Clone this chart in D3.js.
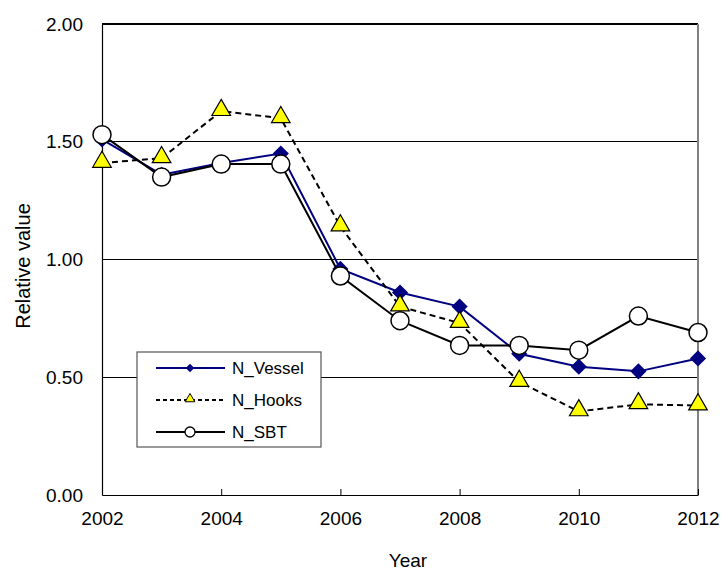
<!DOCTYPE html>
<html>
<head>
<meta charset="utf-8">
<script src="https://cdn.jsdelivr.net/npm/d3@7"></script>
<style>
  html, body { margin: 0; padding: 0; background: #fff; }
  svg { display: block; font-family: "Liberation Sans", Arial, sans-serif; }
</style>
</head>
<body>
<svg id="chart" width="722" height="571"></svg>
<script>
const years = [2002, 2003, 2004, 2005, 2006, 2007, 2008, 2009, 2010, 2011, 2012];
const nVessel = [1.51, 1.36, 1.41, 1.45, 0.96, 0.86, 0.80, 0.60, 0.545, 0.525, 0.58];
const nHooks  = [1.41, 1.43, 1.63, 1.60, 1.14, 0.80, 0.73, 0.48, 0.355, 0.385, 0.38];
const nSBT    = [1.53, 1.35, 1.405, 1.405, 0.93, 0.74, 0.635, 0.635, 0.615, 0.76, 0.69];
const yTicks = [0, 0.5, 1.0, 1.5, 2.0];
const xTicks = [2002, 2004, 2006, 2008, 2010, 2012];
const seriesNames = ["N_Vessel", "N_Hooks", "N_SBT"];

const svg = d3.select("#chart");
const pLeft = 102, pRight = 698, pTop = 24, pBottom = 495;

const x = d3.scaleLinear().domain([2002, 2012]).range([pLeft, pRight]);
const y = d3.scaleLinear().domain([0, 2]).range([pBottom, pTop]);

// gridlines
svg.append("g").selectAll("line").data(yTicks.filter(d => d > 0 && d < 2)).join("line")
  .attr("x1", pLeft).attr("x2", pRight)
  .attr("y1", d => y(d)).attr("y2", d => y(d))
  .attr("stroke", "#000").attr("stroke-width", 1).attr("shape-rendering", "crispEdges");

// frame top and right
svg.append("line").attr("x1", pLeft).attr("x2", pRight).attr("y1", pTop).attr("y2", pTop)
  .attr("stroke", "#000").attr("stroke-width", 1.2).attr("shape-rendering", "crispEdges");
svg.append("line").attr("x1", pRight).attr("x2", pRight).attr("y1", pTop).attr("y2", pBottom)
  .attr("stroke", "#808080").attr("stroke-width", 1.5).attr("shape-rendering", "crispEdges");

// y axis
const yAxis = svg.append("g").attr("transform", `translate(${pLeft},0)`)
  .call(d3.axisLeft(y).tickValues(yTicks).tickFormat(d3.format(".2f")).tickSize(0).tickPadding(19));
yAxis.select(".domain").attr("stroke", "#000").attr("stroke-width", 1.2);
yAxis.selectAll("text").attr("font-size", 19).attr("fill", "#000")
  .attr("font-family", "'Liberation Sans', Arial, sans-serif");

// x axis
const xAxis = svg.append("g").attr("transform", `translate(0,${pBottom})`)
  .call(d3.axisBottom(x).tickValues(xTicks).tickFormat(d3.format("d")).tickSizeInner(-6).tickSizeOuter(0).tickPadding(17));
xAxis.select(".domain").attr("stroke", "#000").attr("stroke-width", 1.2);
xAxis.selectAll(".tick line").attr("stroke", "#000");
xAxis.selectAll("text").attr("font-size", 19).attr("fill", "#000")
  .attr("font-family", "'Liberation Sans', Arial, sans-serif");

// axis titles
svg.append("text").attr("x", 408).attr("y", 567).attr("text-anchor", "middle")
  .attr("font-size", 19).text("Year");
svg.append("text").attr("transform", "translate(30,266) rotate(-90)").attr("text-anchor", "middle")
  .attr("font-size", 20).text("Relative value");

// series
const line = d3.line().x((d, i) => x(years[i])).y(d => y(d));

const square = d3.symbol().type(d3.symbolSquare);
const triangle = d3.symbol().type(d3.symbolTriangle);

// N_Vessel
svg.append("path").datum(nVessel).attr("d", line).attr("fill", "none")
  .attr("stroke", "#000080").attr("stroke-width", 2);
svg.append("g").selectAll("path").data(nVessel).join("path")
  .attr("transform", (d, i) => `translate(${x(years[i])},${y(d)}) rotate(45)`)
  .attr("d", square.size(130)).attr("fill", "#000080");

// N_Hooks
svg.append("path").datum(nHooks).attr("d", line).attr("fill", "none")
  .attr("stroke", "#000").attr("stroke-width", 2).attr("stroke-dasharray", "6,4");
svg.append("g").selectAll("path").data(nHooks).join("path")
  .attr("transform", (d, i) => `translate(${x(years[i])},${y(d) - 1})`)
  .attr("d", triangle.size(150)).attr("fill", "#ffff00").attr("stroke", "#000").attr("stroke-width", 1.2);

// N_SBT
svg.append("path").datum(nSBT).attr("d", line).attr("fill", "none")
  .attr("stroke", "#000").attr("stroke-width", 2);
svg.append("g").selectAll("circle").data(nSBT).join("circle")
  .attr("cx", (d, i) => x(years[i])).attr("cy", d => y(d)).attr("r", 9)
  .attr("fill", "#fff").attr("stroke", "#000").attr("stroke-width", 1.5);

// legend
const lg = svg.append("g");
lg.append("rect").attr("x", 137).attr("y", 352).attr("width", 184).attr("height", 95)
  .attr("fill", "#fff").attr("stroke", "#555").attr("stroke-width", 1.2);
const rowsY = [368, 400, 432];
const styles = [
  { stroke: "#000080", dash: null },
  { stroke: "#000", dash: "4,3" },
  { stroke: "#000", dash: null }
];
seriesNames.forEach((name, i) => {
  const ry = rowsY[i];
  lg.append("line").attr("x1", 156).attr("x2", 225).attr("y1", ry).attr("y2", ry)
    .attr("stroke", styles[i].stroke).attr("stroke-width", 2)
    .attr("stroke-dasharray", styles[i].dash);
  if (i === 0) {
    lg.append("path").attr("transform", `translate(190,${ry}) rotate(45)`).attr("d", d3.symbol().type(d3.symbolSquare).size(36)()).attr("fill", "#000080");
  } else if (i === 1) {
    lg.append("path").attr("transform", `translate(190,${ry - 1})`).attr("d", d3.symbol().type(d3.symbolTriangle).size(40)())
      .attr("fill", "#ffff00").attr("stroke", "#000").attr("stroke-width", 1);
  } else {
    lg.append("circle").attr("cx", 190).attr("cy", ry).attr("r", 5)
      .attr("fill", "#fff").attr("stroke", "#000").attr("stroke-width", 1.3);
  }
  lg.append("text").attr("x", 232).attr("y", ry + 6).attr("font-size", 17).text(name);
});
</script>
</body>
</html>
